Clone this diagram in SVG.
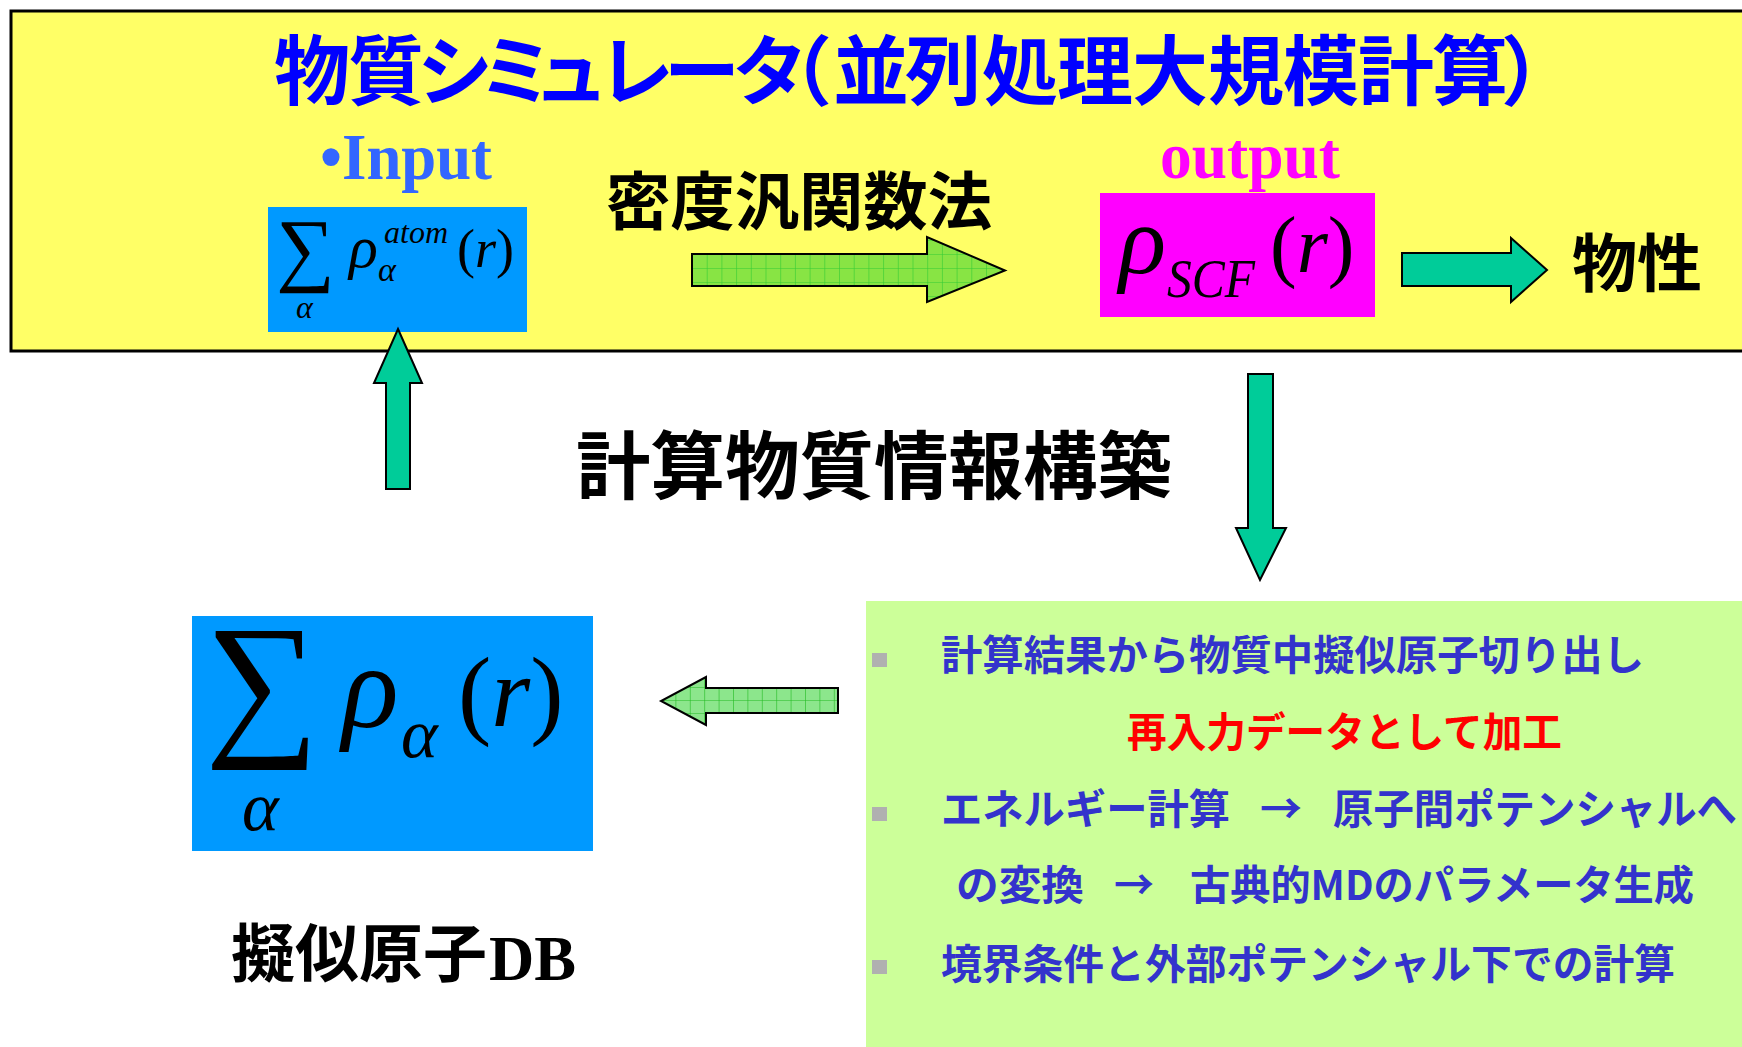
<svg xmlns="http://www.w3.org/2000/svg" width="1742" height="1047" viewBox="0 0 1742 1047">
<defs>
<pattern id="gridA" patternUnits="userSpaceOnUse" x="692" y="240" width="14.7" height="14">
<rect width="14.7" height="14" fill="#88E444"/>
<path d="M0 0V14M0 0H14.7" stroke="#33CC33" stroke-width="1.2" fill="none"/>
</pattern>
<pattern id="gridB" patternUnits="userSpaceOnUse" x="661" y="687" width="14.4" height="13">
<rect width="14.4" height="13" fill="#8CE68C"/>
<path d="M0 0V13M0 0H14.4" stroke="#22BB22" stroke-width="1.2" fill="none"/>
</pattern>
</defs>
<style>
.jp{font-family:"Noto Sans CJK JP","Noto Sans CJK SC",sans-serif;font-weight:700}
.tm{font-family:"Liberation Serif","DejaVu Serif",serif}
.it{font-style:italic}
.bul{fill:#B0B0B0}
.blu{fill:#3333CC}
.arr{stroke:#000;stroke-width:2;stroke-linejoin:miter}
</style>
<rect x="0" y="0" width="1742" height="1047" fill="#FFFFFF"/>

<g id="simulator">
<rect x="11" y="11" width="1740" height="340" fill="#FFFF66" stroke="#000" stroke-width="3"/>
<text class="jp" font-size="76" fill="#0000FF" text-anchor="middle" y="99" x="312 386 455 516 571 636 702 770 794 871 943 1020 1095 1170 1246 1321 1396 1470 1539">物質シミュレータ（並列処理大規模計算）</text>
</g>

<g id="input">
<text class="tm" font-weight="700" font-size="66" fill="#3366FF" x="320" y="179" textLength="172" lengthAdjust="spacingAndGlyphs">•Input</text>
<rect x="268" y="207" width="259" height="125" fill="#0099FF"/>
<text class="tm" font-size="82" x="276" y="276">∑</text>
<text class="tm it" font-size="32" x="296" y="318">α</text>
<text class="tm it" font-size="60" x="349" y="267">ρ</text>
<text class="tm it" font-size="32" x="384" y="243">atom</text>
<text class="tm it" font-size="34" x="378" y="281">α</text>
<text class="tm" font-size="54" x="457" y="267">(<tspan class="it">r</tspan>)</text>
</g>

<g id="dft-label">
<text class="jp" font-size="63" fill="#000" x="606" y="224" textLength="386" lengthAdjust="spacingAndGlyphs">密度汎関数法</text>
</g>

<g id="output">
<text class="tm" font-weight="700" font-size="66" fill="#FF00FF" x="1160" y="178" textLength="180" lengthAdjust="spacingAndGlyphs">output</text>
<rect x="1100" y="193" width="275" height="124" fill="#FF00FF"/>
<text class="tm it" font-size="98" x="1119" y="273">ρ</text>
<text class="tm it" font-size="55" x="1167" y="297" textLength="88" lengthAdjust="spacingAndGlyphs">SCF</text>
<text class="tm" font-size="80" x="1270" y="272">(<tspan class="it">r</tspan>)</text>
</g>

<g id="property">
<text class="jp" font-size="63" fill="#000" x="1572" y="286" textLength="130" lengthAdjust="spacingAndGlyphs">物性</text>
</g>

<g id="center-label">
<text class="jp" font-size="74" fill="#000" x="576" y="493" textLength="596" lengthAdjust="spacingAndGlyphs">計算物質情報構築</text>
</g>

<g id="pseudo-db">
<rect x="192" y="616" width="401" height="235" fill="#0099FF"/>
<text class="tm" font-size="160" x="205" y="736">∑</text>
<text class="tm it" font-size="70" x="242" y="830">α</text>
<text class="tm it" font-size="118" x="342" y="727">ρ</text>
<text class="tm it" font-size="70" x="401" y="757">α</text>
<text class="tm" font-size="100" x="458" y="726">(<tspan class="it">r</tspan>)</text>
<text class="jp" font-size="63" fill="#000" x="231" y="976" textLength="256" lengthAdjust="spacingAndGlyphs">擬似原子</text>
<text class="tm" font-weight="700" font-size="64" fill="#000" x="489" y="980" textLength="87" lengthAdjust="spacingAndGlyphs">DB</text>
</g>

<g id="processing">
<rect x="866" y="601" width="876" height="446" fill="#CCFF99"/>
<rect class="bul" x="872" y="653" width="15" height="14"/>
<rect class="bul" x="872" y="807" width="15" height="14"/>
<rect class="bul" x="872" y="960" width="15" height="14"/>
<text class="jp blu" font-size="41" x="941" y="670" textLength="703" lengthAdjust="spacingAndGlyphs">計算結果から物質中擬似原子切り出し</text>
<text class="jp" font-size="41" fill="#FF0000" x="1127" y="747" textLength="435" lengthAdjust="spacingAndGlyphs">再入力データとして加工</text>
<text class="jp blu" font-size="41" y="824"><tspan x="941" textLength="289" lengthAdjust="spacingAndGlyphs">エネルギー計算</tspan><tspan x="1260" textLength="42" lengthAdjust="spacingAndGlyphs">→</tspan><tspan x="1333" textLength="404" lengthAdjust="spacingAndGlyphs">原子間ポテンシャルへ</tspan></text>
<text class="jp blu" font-size="41" y="900"><tspan x="956" textLength="128" lengthAdjust="spacingAndGlyphs">の変換</tspan><tspan x="1114" textLength="40" lengthAdjust="spacingAndGlyphs">→</tspan><tspan x="1190" textLength="504" lengthAdjust="spacingAndGlyphs">古典的MDのパラメータ生成</tspan></text>
<text class="jp blu" font-size="41" x="941" y="979" textLength="734" lengthAdjust="spacingAndGlyphs">境界条件と外部ポテンシャル下での計算</text>
</g>

<g id="connectors">
<polygon class="arr" fill="url(#gridA)" points="692,254 927,254 927,237 1005,270.5 927,302 927,286 692,286"/>
<polygon class="arr" fill="#00CC99" points="1402,253 1511,253 1511,238 1547,270 1511,302 1511,286 1402,286"/>
<polygon class="arr" fill="#00CC99" points="1248,374 1273,374 1273,528 1286,528 1260,580 1236,528 1248,528"/>
<polygon class="arr" fill="url(#gridB)" points="838,688 838,713 706,713 706,725 661,701 706,677 706,688"/>
<polygon class="arr" fill="#00CC99" points="398,329 422,383 410,383 410,489 386,489 386,383 374,383"/>
</g>
</svg>
